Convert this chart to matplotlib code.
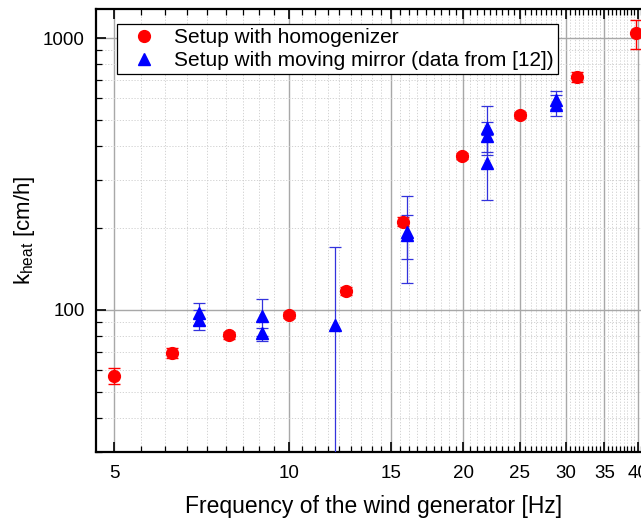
import numpy as np
import matplotlib
matplotlib.use("Agg")
import matplotlib.pyplot as plt
from matplotlib.ticker import FixedLocator, FixedFormatter, LogLocator, NullFormatter

plt.rcParams['font.family'] = ['Liberation Sans', 'DejaVu Sans']

# Setup with homogenizer
homo_f = [5.0, 6.3, 7.9, 10.0, 12.55, 15.75, 19.85, 25.0, 31.4, 39.7]
homo_k = [57.2, 69.3, 80.7, 95.9, 117.5, 211, 368, 521, 721, 1040]
homo_err = [4, 3, 2.5, 2.5, 4, 8, 10, 12, 30, 125]

# Setup with moving mirror (data from [12])
mirr_f = [7.0, 7.0, 9.0, 9.0, 12.0, 16.0, 16.0, 22.0, 22.0, 22.0, 28.9, 28.9]
mirr_k = [97, 92, 95, 82, 88, 194, 189, 466, 436, 346, 592, 567]
mirr_lo = [9, 8, 15, 5, 82, 68, 35, 96, 54, 92, 45, 51]
mirr_hi = [9, 8, 15, 4, 82, 68, 35, 96, 54, 92, 45, 51]

fig = plt.figure(figsize=(6.41, 5.22), dpi=100)
ax = fig.add_axes([0.1498, 0.134, 0.8674, 0.849])
ax.set_xscale('log')
ax.set_yscale('log')
ax.set_xlim(4.65, 42.3)
ax.set_ylim(30, 1280)

# grid
ax.grid(True, which='major', color='#a8a8a8', lw=1.0, ls='-')
ax.grid(True, which='minor', color='#cccccc', lw=0.6, ls=(0, (1.5, 2)))
ax.set_axisbelow(True)

# error bars
ax.errorbar(homo_f, homo_k, yerr=homo_err, fmt='none', ecolor='red',
            elinewidth=1.0, capsize=4, capthick=1.0, zorder=3)
ax.errorbar(mirr_f, mirr_k, yerr=[mirr_lo, mirr_hi], fmt='none', ecolor='#3333dd',
            elinewidth=0.9, capsize=4, capthick=0.9, zorder=3)

# markers
ax.plot(homo_f, homo_k, ls='none', marker='o', ms=8.5, color='red', mec='red',
        label='Setup with homogenizer', zorder=4)
ax.plot(mirr_f, mirr_k, ls='none', marker='^', ms=9, color='blue', mec='blue',
        label='Setup with moving mirror (data from [12])', zorder=4)

# x ticks
xmaj = [5, 10, 15, 20, 25, 30, 35, 40]
ax.xaxis.set_major_locator(FixedLocator(xmaj))
ax.xaxis.set_major_formatter(FixedFormatter([str(v) for v in xmaj]))
xmin = [a + i * 5 / 9 for a in range(5, 45, 5) for i in range(1, 9)]
ax.xaxis.set_minor_locator(FixedLocator(xmin))
ax.xaxis.set_minor_formatter(NullFormatter())

# y ticks
ax.yaxis.set_major_locator(FixedLocator([100, 1000]))
ax.yaxis.set_major_formatter(FixedFormatter(['100', '1000']))
ax.yaxis.set_minor_locator(LogLocator(base=10, subs=np.arange(2, 10)))
ax.yaxis.set_minor_formatter(NullFormatter())

ax.tick_params(which='both', direction='in', top=True, right=True, labelsize=13.5)
ax.tick_params(which='major', length=7, width=1.2)
ax.tick_params(which='minor', length=4, width=0.9)
ax.tick_params(axis='x', pad=9)
ax.tick_params(axis='y', pad=8)
for s in ax.spines.values():
    s.set_linewidth(1.6)

ax.set_xlabel('Frequency of the wind generator [Hz]', fontsize=16.5, labelpad=10)
ax.set_ylabel('k$_{\\mathregular{heat}}$ [cm/h]', fontsize=16, labelpad=4.5)

leg = ax.legend(loc='upper left', bbox_to_anchor=(0.0378, 0.966), fontsize=15,
                frameon=True, fancybox=False, edgecolor='black', framealpha=1,
                handletextpad=0.35, borderpad=0.2, labelspacing=0.2, handlelength=2.2,
                borderaxespad=0)
leg.get_frame().set_linewidth(0.9)

fig.savefig('out.png', dpi=100)
